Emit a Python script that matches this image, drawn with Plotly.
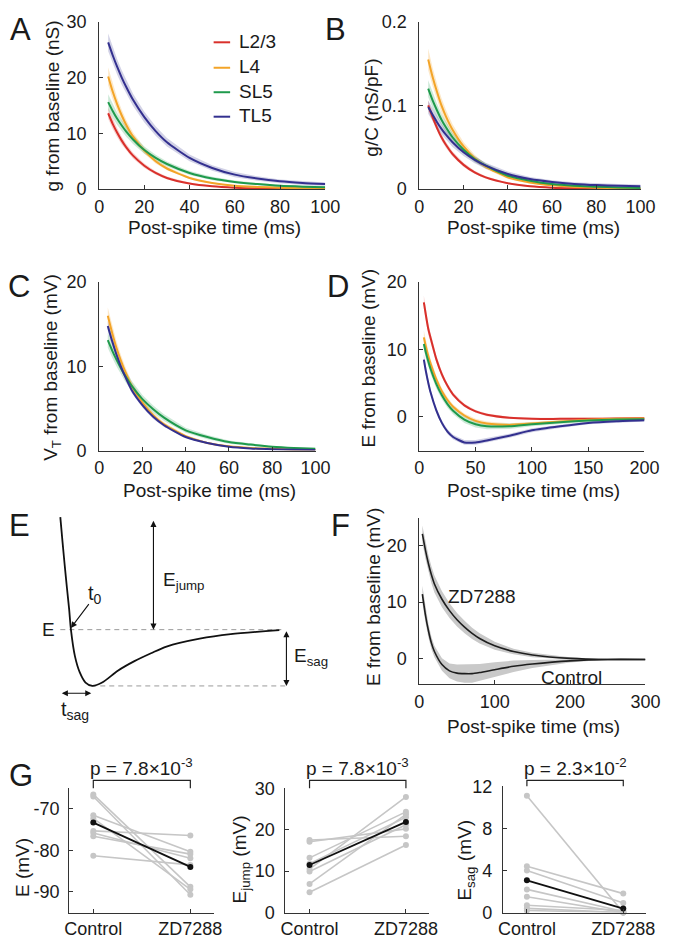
import numpy as np
import plotly.graph_objects as go

W, H = 675, 948
OX, OY = 0, 0  # body margin removed via post_script
FONT = "Liberation Sans"

# ---------------- data ----------------
series_names = ["L2/3", "L4", "SL5", "TL5"]

# Panels A-C time base (ms)
t_AC = [4, 6, 8, 10, 12, 15, 20, 25, 30, 40, 50, 60, 70, 80, 90, 100]

# A: g from baseline (nS)
gA_L23 = [13.6, 11.7, 10.1, 8.7, 7.5, 6.0, 4.2, 2.9, 2.0, 1.0, 0.5, 0.25, 0.12, 0.06, 0.03, 0.02]
gA_L4 = [20.2, 17.5, 15.2, 13.2, 11.5, 9.4, 6.9, 5.0, 3.7, 2.0, 1.1, 0.6, 0.4, 0.25, 0.15, 0.1]
gA_SL5 = [15.6, 14.0, 12.6, 11.4, 10.3, 8.9, 7.0, 5.6, 4.5, 2.9, 1.9, 1.3, 0.9, 0.6, 0.45, 0.35]
gA_TL5 = [26.3, 24.0, 21.9, 20.0, 18.3, 16.0, 12.9, 10.4, 8.4, 5.6, 3.8, 2.6, 1.9, 1.4, 1.1, 0.9]
gA_L23_sem = [1.0, 0.9, 0.8, 0.7, 0.6, 0.5, 0.4, 0.3, 0.25, 0.15, 0.1, 0.08, 0.06, 0.05, 0.05, 0.05]
gA_L4_sem = [1.6, 1.4, 1.2, 1.05, 0.9, 0.75, 0.55, 0.4, 0.3, 0.2, 0.15, 0.1, 0.1, 0.08, 0.08, 0.08]
gA_SL5_sem = [1.4, 1.2, 1.1, 1.0, 0.9, 0.8, 0.65, 0.55, 0.45, 0.35, 0.3, 0.25, 0.2, 0.2, 0.2, 0.2]
gA_TL5_sem = [1.6, 1.5, 1.4, 1.3, 1.2, 1.1, 0.95, 0.85, 0.75, 0.6, 0.5, 0.45, 0.4, 0.35, 0.35, 0.3]

# B: g/C (nS/pF)
gB_L23 = [0.100, 0.086, 0.073, 0.062, 0.053, 0.042, 0.029, 0.020, 0.014, 0.007, 0.0035, 0.0018, 0.001, 0.0005, 0.0003, 0.0002]
gB_L4 = [0.155, 0.134, 0.116, 0.100, 0.087, 0.071, 0.051, 0.037, 0.027, 0.014, 0.008, 0.0045, 0.0027, 0.0017, 0.001, 0.0007]
gB_SL5 = [0.120, 0.106, 0.094, 0.083, 0.074, 0.062, 0.047, 0.036, 0.028, 0.016, 0.010, 0.006, 0.004, 0.003, 0.002, 0.0015]
gB_TL5 = [0.098, 0.089, 0.080, 0.072, 0.065, 0.056, 0.044, 0.035, 0.028, 0.018, 0.012, 0.0085, 0.0062, 0.0048, 0.004, 0.0035]
gB_L23_sem = [0.006, 0.005, 0.0045, 0.004, 0.0035, 0.003, 0.0025, 0.002, 0.0015, 0.001, 0.0008, 0.0006, 0.0005, 0.0005, 0.0005, 0.0005]
gB_L4_sem = [0.013, 0.011, 0.010, 0.009, 0.008, 0.0065, 0.005, 0.004, 0.003, 0.002, 0.0015, 0.001, 0.001, 0.001, 0.001, 0.001]
gB_SL5_sem = [0.010, 0.009, 0.008, 0.007, 0.0065, 0.0055, 0.0045, 0.0035, 0.003, 0.002, 0.0015, 0.001, 0.001, 0.001, 0.001, 0.001]
gB_TL5_sem = [0.008, 0.0075, 0.007, 0.0065, 0.006, 0.0055, 0.0045, 0.004, 0.0035, 0.003, 0.0025, 0.002, 0.002, 0.002, 0.002, 0.002]

# C: V_T from baseline (mV)
vC_L4 = [16.0, 14.0, 12.2, 10.7, 9.4, 7.7, 5.7, 4.2, 3.1, 1.7, 0.9, 0.5, 0.3, 0.2, 0.1, 0.1]
vC_SL5 = [13.1, 11.9, 10.8, 9.8, 8.9, 7.7, 6.1, 4.9, 3.9, 2.4, 1.6, 1.0, 0.7, 0.45, 0.3, 0.2]
vC_TL5 = [14.8, 13.0, 11.4, 10.0, 8.8, 7.2, 5.4, 4.0, 3.0, 1.6, 0.9, 0.45, 0.25, 0.15, 0.1, 0.05]
vC_L4_sem = [1.0, 0.9, 0.8, 0.7, 0.6, 0.5, 0.4, 0.3, 0.25, 0.15, 0.1, 0.08, 0.06, 0.05, 0.05, 0.05]
vC_SL5_sem = [0.9, 0.85, 0.8, 0.75, 0.7, 0.6, 0.5, 0.45, 0.4, 0.3, 0.25, 0.2, 0.15, 0.1, 0.1, 0.1]
vC_TL5_sem = [0.6, 0.55, 0.5, 0.45, 0.4, 0.35, 0.3, 0.25, 0.2, 0.15, 0.1, 0.08, 0.06, 0.05, 0.05, 0.05]

# D: E from baseline (mV)
t_D = [4, 6, 8, 10, 15, 20, 25, 30, 40, 50, 60, 80, 100, 125, 150, 175, 200]
eD_L23 = [17.0, 14.9, 13.0, 11.7, 8.6, 6.3, 4.6, 3.3, 1.7, 0.8, 0.3, -0.15, -0.3, -0.3, -0.3, -0.25, -0.2]
eD_L4 = [11.8, 10.3, 9.0, 7.9, 5.6, 3.8, 2.5, 1.5, 0.2, -0.6, -1.0, -1.2, -1.0, -0.7, -0.45, -0.3, -0.25]
eD_SL5 = [10.8, 9.4, 8.2, 7.1, 4.9, 3.2, 1.9, 0.9, -0.4, -1.1, -1.4, -1.4, -1.1, -0.8, -0.55, -0.4, -0.35]
eD_TL5 = [8.5, 6.6, 5.0, 3.6, 1.0, -0.9, -2.2, -3.0, -3.8, -3.8, -3.5, -2.8, -2.0, -1.4, -0.9, -0.65, -0.5]
eD_L23_sem = [1.0, 0.9, 0.8, 0.7, 0.55, 0.45, 0.35, 0.3, 0.25, 0.2, 0.2, 0.15, 0.15, 0.15, 0.15, 0.15, 0.15]
eD_L4_sem = [1.0, 0.9, 0.8, 0.7, 0.55, 0.45, 0.4, 0.35, 0.3, 0.3, 0.3, 0.25, 0.2, 0.2, 0.15, 0.15, 0.15]
eD_SL5_sem = [0.9, 0.85, 0.8, 0.75, 0.65, 0.6, 0.55, 0.5, 0.5, 0.5, 0.45, 0.4, 0.3, 0.25, 0.2, 0.2, 0.2]
eD_TL5_sem = [0.8, 0.7, 0.6, 0.5, 0.4, 0.35, 0.35, 0.35, 0.35, 0.35, 0.35, 0.3, 0.3, 0.25, 0.2, 0.2, 0.2]

# E: schematic trace (arbitrary units)
sch_t = [0, 1, 2, 3, 4, 4.8, 6.6, 8.8, 11.4, 14.5, 18.9, 26, 33.5, 41, 48, 63, 77, 99]
sch_v = [10, 7.8, 5.7, 3.7, 1.8, 0, -2.35, -3.8, -4.7, -5, -4.7, -3.65, -2.8, -2.1, -1.5, -0.8, -0.4, -0.05]
sch_jump = 9.8
sch_sag = -5.0
sch_tsag = 14.0
sch_t0 = 4.8

# F: E from baseline (mV), control vs ZD7288
t_F = [4, 8, 12, 16, 20, 30, 40, 50, 60, 70, 80, 100, 125, 150, 200, 250, 300]
eF_zd = [22.0, 19.2, 16.8, 14.8, 13.2, 10.5, 8.5, 6.9, 5.6, 4.5, 3.6, 2.3, 1.3, 0.7, 0.1, -0.1, -0.1]
eF_zd_sem = [1.5, 1.5, 1.5, 1.5, 1.5, 1.4, 1.3, 1.2, 1.1, 1.0, 0.9, 0.7, 0.5, 0.4, 0.2, 0.0, 0.0]
eF_ctrl = [11.4, 7.8, 5.0, 2.8, 1.3, -1.0, -2.1, -2.5, -2.6, -2.6, -2.4, -1.9, -1.3, -0.9, -0.35, -0.1, -0.1]
eF_ctrl_sem = [1.5, 1.3, 1.2, 1.1, 1.0, 1.1, 1.3, 1.5, 1.6, 1.6, 1.5, 1.3, 1.0, 0.7, 0.3, 0.0, 0.0]

# G: paired values per cell (Control, ZD7288)
conditions = ["Control", "ZD7288"]
E_ctrl = [-66.5, -67.0, -71.5, -72.3, -75.3, -75.8, -76.6, -81.3]
E_zd = [-88.8, -90.7, -80.3, -89.4, -76.4, -81.9, -80.9, -83.5]
Ejump_ctrl = [17.5, 17.1, 13.2, 11.8, 10.5, 9.9, 6.9, 4.9]
Ejump_zd = [18.4, 20.2, 24.3, 23.0, 27.9, 21.2, 23.7, 16.3]
Esag_ctrl = [11.1, 4.4, 4.0, 2.2, 1.5, 0.7, 0.4, 0.2]
Esag_zd = [0.0, 1.8, 0.9, 0.1, 0.0, 0.2, 0.0, 0.0]
E_ticks = [-90, -80, -70]
p_values = ["7.8×10<sup>-3</sup>", "7.8×10<sup>-3</sup>", "2.3×10<sup>-2</sup>"]

# ---------------- styling ----------------
COLORS = {"L2/3": "#d9302b", "L4": "#f3a428", "SL5": "#1f9a4c", "TL5": "#33308f"}
BANDS = {"L2/3": "rgba(217,48,43,0.22)", "L4": "rgba(243,164,40,0.25)",
         "SL5": "rgba(31,154,76,0.22)", "TL5": "rgba(51,48,143,0.22)"}
AXC = "#333333"
TXT = "#1a1a1a"
TICK_FS = 18
TITLE_FS = 19


def PX(p):
    return (p - OX) / W


def PY(p):
    return 1 - (p - OY) / H


def dom_x(a, b):
    return [PX(a), PX(b)]


def dom_y(top, bottom):
    return [PY(bottom), PY(top)]


fig = go.Figure()


def add_band(x, y, s, color, xa, ya):
    x = list(x)
    up = [a + b for a, b in zip(y, s)]
    lo = [a - b for a, b in zip(y, s)]
    fig.add_trace(go.Scatter(x=x + x[::-1], y=up + lo[::-1], fill="toself",
                             fillcolor=color, line=dict(width=0), mode="lines",
                             hoverinfo="skip", showlegend=False, xaxis=xa, yaxis=ya))


def add_line(x, y, color, xa, ya, width=2):
    fig.add_trace(go.Scatter(x=x, y=y, mode="lines", line=dict(color=color, width=width, shape="spline", smoothing=0.6),
                             showlegend=False, hoverinfo="skip", xaxis=xa, yaxis=ya))


def multi_panel(t, vals, sems, xa, ya):
    for name in vals:
        add_band(t, vals[name], sems[name], BANDS[name], xa, ya)
    for name in vals:
        add_line(t, vals[name], COLORS[name], xa, ya)


multi_panel(t_AC, {"L2/3": gA_L23, "L4": gA_L4, "SL5": gA_SL5, "TL5": gA_TL5},
            {"L2/3": gA_L23_sem, "L4": gA_L4_sem, "SL5": gA_SL5_sem, "TL5": gA_TL5_sem}, "x", "y")
multi_panel(t_AC, {"L2/3": gB_L23, "L4": gB_L4, "SL5": gB_SL5, "TL5": gB_TL5},
            {"L2/3": gB_L23_sem, "L4": gB_L4_sem, "SL5": gB_SL5_sem, "TL5": gB_TL5_sem}, "x2", "y2")
multi_panel(t_AC, {"L4": vC_L4, "SL5": vC_SL5, "TL5": vC_TL5},
            {"L4": vC_L4_sem, "SL5": vC_SL5_sem, "TL5": vC_TL5_sem}, "x3", "y3")
multi_panel(t_D, {"L2/3": eD_L23, "L4": eD_L4, "SL5": eD_SL5, "TL5": eD_TL5},
            {"L2/3": eD_L23_sem, "L4": eD_L4_sem, "SL5": eD_SL5_sem, "TL5": eD_TL5_sem}, "x4", "y4")

# E schematic
fig.add_trace(go.Scatter(x=[sch_t[0], 100], y=[0, 0], mode="lines",
                         line=dict(color="#9a9a9a", width=1, dash="5px,4px"),
                         showlegend=False, hoverinfo="skip", xaxis="x5", yaxis="y5"))
fig.add_trace(go.Scatter(x=[sch_tsag, 102], y=[sch_sag, sch_sag], mode="lines",
                         line=dict(color="#9a9a9a", width=1, dash="5px,4px"),
                         showlegend=False, hoverinfo="skip", xaxis="x5", yaxis="y5"))
fig.add_trace(go.Scatter(x=sch_t, y=sch_v, mode="lines",
                         line=dict(color="#111", width=1.8, shape="spline", smoothing=0.8),
                         showlegend=False, hoverinfo="skip", xaxis="x5", yaxis="y5"))

# F
add_band(t_F, eF_zd, eF_zd_sem, "#c9c9c9", "x6", "y6")
add_band(t_F, eF_ctrl, eF_ctrl_sem, "#c9c9c9", "x6", "y6")
add_line(t_F, eF_zd, "#1e1e1e", "x6", "y6", width=1.6)
add_line(t_F, eF_ctrl, "#1e1e1e", "x6", "y6", width=1.6)

# G
G_sets = [(E_ctrl, E_zd, "x7", "y7"), (Ejump_ctrl, Ejump_zd, "x8", "y8"), (Esag_ctrl, Esag_zd, "x9", "y9")]
for c_list, z_list, xa, ya in G_sets:
    for c, z in zip(c_list, z_list):
        fig.add_trace(go.Scatter(x=[0, 1], y=[c, z], mode="lines+markers",
                                 line=dict(color="#c6c6c6", width=1.6),
                                 marker=dict(color="#c6c6c6", size=6),
                                 showlegend=False, hoverinfo="skip", xaxis=xa, yaxis=ya, cliponaxis=False))
    fig.add_trace(go.Scatter(x=[0, 1], y=[float(np.mean(c_list)), float(np.mean(z_list))], mode="lines+markers",
                             line=dict(color="#111", width=1.8), marker=dict(color="#111", size=6),
                             showlegend=False, hoverinfo="skip", xaxis=xa, yaxis=ya, cliponaxis=False))

# ---------------- axes ----------------
def ax(domain, rng, tickvals, ticktext=None, anchor=None, **kw):
    d = dict(domain=domain, range=rng, showline=True, linecolor=AXC, linewidth=1,
             ticks="inside", ticklen=4, tickcolor=AXC, tickwidth=1, showgrid=False,
             zeroline=False, tickvals=tickvals,
             tickfont=dict(family=FONT, size=TICK_FS, color=TXT), anchor=anchor)
    if ticktext is not None:
        d["ticktext"] = ticktext
    d.update(kw)
    return d


tv100 = [0, 20, 40, 60, 80, 100]
G_RNG = [-0.25, 1.24]
layout_axes = dict(
    xaxis=ax(dom_x(97, 330), [0, 100], tv100, anchor="y", ticklabelstandoff=1),
    yaxis=ax(dom_y(12, 183), [0, 30], [0, 10, 20, 30], anchor="x", ticklabelstandoff=8),
    xaxis2=ax(dom_x(427, 655), [0, 100], tv100, anchor="y2", ticklabelstandoff=1),
    yaxis2=ax(dom_y(12, 183), [0, 0.2], [0, 0.1, 0.2], ["0", "0.1", "0.2"], anchor="x2", ticklabelstandoff=8),
    xaxis3=ax(dom_x(97, 320), [0, 100], tv100, anchor="y3", ticklabelstandoff=1),
    yaxis3=ax(dom_y(278, 450), [0, 20], [0, 10, 20], anchor="x3", ticklabelstandoff=8),
    xaxis4=ax(dom_x(427, 659), [0, 200], [0, 50, 100, 150, 200], anchor="y4", ticklabelstandoff=1),
    yaxis4=ax(dom_y(278, 450), [-5, 20], [0, 10, 20], anchor="x4", ticklabelstandoff=8),
    xaxis5=dict(domain=dom_x(30, 320), range=[(30 - 57) / 2.28, (320 - 57) / 2.28], visible=False, anchor="y5"),
    yaxis5=dict(domain=dom_y(505, 745), range=[(633 - 745) / 11.5, (633 - 505) / 11.5], visible=False, anchor="x5"),
    xaxis6=ax(dom_x(427, 660), [0, 300], [0, 100, 200, 300], anchor="y6", ticklabelstandoff=1),
    yaxis6=ax(dom_y(519, 689), [-4.5, 24.8], [0, 10, 20], anchor="x6", ticklabelstandoff=8),
    xaxis7=ax(dom_x(66, 215), G_RNG, [0, 1], conditions, anchor="y7", ticklabelstandoff=0),
    yaxis7=ax(dom_y(795, 922), [-95, -65], E_ticks, [str(v) for v in E_ticks], anchor="x7", ticklabelstandoff=5),
    xaxis8=ax(dom_x(289, 437), G_RNG, [0, 1], conditions, anchor="y8", ticklabelstandoff=0),
    yaxis8=ax(dom_y(795, 922), [0, 30], [0, 10, 20, 30], anchor="x8", ticklabelstandoff=6),
    xaxis9=ax(dom_x(513, 661), G_RNG, [0, 1], conditions, anchor="y9", ticklabelstandoff=0),
    yaxis9=ax(dom_y(793, 922), [0, 12], [0, 4, 8, 12], anchor="x9", ticklabelstandoff=6),
)

annotations = []
shapes = []


def txt(x, y, text, size=TITLE_FS, angle=0, xanchor="center", yanchor="middle", xref="paper", yref="paper"):
    if xref == "paper":
        x = PX(x)
    if yref == "paper":
        y = PY(y)
    annotations.append(dict(x=x, y=y, xref=xref, yref=yref, text=text, showarrow=False,
                            textangle=angle, xanchor=xanchor, yanchor=yanchor,
                            font=dict(family=FONT, size=size, color=TXT)))


# panel letters
txt(16, 0, "A", size=31, yanchor="top")
txt(341, 0, "B", size=31, yanchor="top")
for letter, (lx, ly) in {"C": (14, 282), "D": (343, 282),
                         "E": (15, 527), "F": (346, 527), "G": (16, 782)}.items():
    txt(lx, ly, letter, size=31)

# axis titles
txt(49, 98, "g from baseline (nS)", angle=-90)
txt(378, 100, "g/C (nS/pF)", angle=-90)
txt(49, 365, "V<sub>T</sub> from baseline (mV)", angle=-90)
txt(375, 356, "E from baseline (mV)", angle=-90)
txt(380, 600, "E from baseline (mV)", angle=-90)
for cx, cy in [(216, 222), (545, 222), (211, 491), (545, 491), (545, 732)]:
    txt(cx, cy, "Post-spike time (ms)")
txt(18, 876, "E (mV)", angle=-90)
txt(243, 868, "E<sub>jump</sub> (mV)", angle=-90)
txt(475, 868, "E<sub>sag</sub> (mV)", angle=-90)

# legend (panel A)
leg_y = [33, 59, 84, 109]
for name, yy in zip(series_names, leg_y):
    shapes.append(dict(type="line", xref="paper", yref="paper", x0=PX(215), x1=PX(232),
                       y0=PY(yy), y1=PY(yy), line=dict(color=COLORS[name], width=2)))
    txt(239, yy - 1, name, xanchor="left")

# F labels
txt(492, 599, "ZD7288", xanchor="center")
txt(584, 682, "Control", xanchor="center")

# E schematic labels and arrows
txt(-5.5, 0, "E", xref="x5", yref="y5")
txt(45.5, 4.3, "E<sub>jump</sub>", xanchor="left", xref="x5", yref="y5")
txt(104.5, -2.4, "E<sub>sag</sub>", xanchor="left", xref="x5", yref="y5")
txt(15.8, 3.1, "t<sub>0</sub>", xref="x5", yref="y5", size=20)
txt(6.6, -7.2, "t<sub>sag</sub>", xref="x5", yref="y5", size=20)


def arrow(x, y, axv, ayv, both=True):
    annotations.append(dict(x=x, y=y, ax=axv, ay=ayv, xref="x5", yref="y5", axref="x5", ayref="y5",
                            text="", showarrow=True, arrowhead=2, arrowsize=1.1, arrowwidth=1.1,
                            arrowcolor="#111", arrowside="end+start" if both else "end"))


arrow(42.1, 0, 42.1, sch_jump)
arrow(102.2, sch_sag, 102.2, 0)
arrow(sch_tsag, -5.65, 0, -5.65)
arrow(sch_t0, 0.15, 13.4, 2.4, both=False)

# G brackets and p-values
G_px = [((66, 215), 787, 795), ((289, 437), 787, 795), ((513, 661), 787, 793)]
for (dx, by, bt), p in zip(G_px, p_values):
    def cx(v, dx=dx):
        return dx[0] + (v - G_RNG[0]) / (G_RNG[1] - G_RNG[0]) * (dx[1] - dx[0])
    x0, x1 = cx(0), cx(1)
    shapes.append(dict(type="path", xref="paper", yref="paper",
                       path=f"M {PX(x0)},{PY(bt)} L {PX(x0)},{PY(by)} L {PX(x1)},{PY(by)} L {PX(x1)},{PY(bt)}",
                       line=dict(color="#222", width=1.2)))
    txt((x0 + x1) / 2, 773, "p = " + p)

fig.update_layout(width=W, height=H, margin=dict(l=0, r=0, t=0, b=0),
                  paper_bgcolor="white", plot_bgcolor="white", showlegend=False,
                  annotations=annotations, shapes=shapes,
                  font=dict(family=FONT, color=TXT), **layout_axes)

fig.write_html("out.html", config={"displayModeBar": False},
               post_script="document.body.style.margin='0px';document.body.style.padding='0px';")
